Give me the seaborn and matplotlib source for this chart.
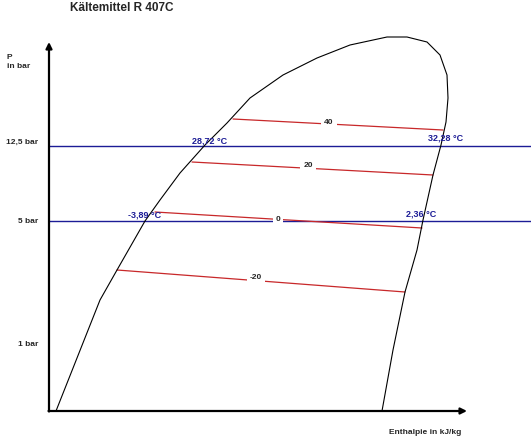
import pandas as pd
import matplotlib
matplotlib.use("Agg")
import matplotlib.pyplot as plt
import seaborn as sns

# Sattdampfkurve (schematisch, Enthalpie / Druck in Zeichnungseinheiten)
dome_h = [7, 51, 68, 96, 111, 131, 156, 178, 201, 234, 268, 301, 338, 358,
          378, 391, 398, 399, 397, 392, 384, 374, 368, 356, 344, 333]
dome_p = [0, 111, 141, 190, 211, 238, 266, 288, 313, 336, 353, 366, 374, 374,
          369, 356, 336, 313, 289, 266, 236, 191, 161, 119, 61, 0]

# Isothermen: Start/Ende und Position der Beschriftung
iso_names = ["40", "20", "0", "-20"]
iso_h0 = [184, 143, 106, 68]
iso_p0 = [292, 249, 199, 141]
iso_h1 = [394, 384, 373, 356]
iso_p1 = [281, 236, 183, 119]
iso_lab_h = [280, 259, 229, 207]
iso_lab_p = [289, 246, 192, 134]

# Druckniveaus
p_levels = [265, 190]
p_ticks = ["12,5 bar", "5 bar", "1 bar"]
p_tick_pos = [269, 190, 67]

# Siede-/Taupunkttemperaturen
t_labels = ["28,72 °C", "32,28 °C", "-3,89 °C", "2,36 °C"]
t_h = [161, 397, 96, 372]
t_p = [270, 273, 196, 197]

iso_df = pd.DataFrame({
    "h": iso_h0 + iso_h1,
    "p": iso_p0 + iso_p1,
    "T": iso_names + iso_names,
})
dome_df = pd.DataFrame({"h": dome_h, "p": dome_p, "k": "dome"})

sns.set_theme(style="white")
plt.rcParams["font.family"] = ["Liberation Sans", "DejaVu Sans"]

fig = plt.figure(figsize=(5.31, 4.40), dpi=100)
ax = fig.add_axes([0, 0, 1, 1])
ax.set_xlim(-49, 482)
ax.set_ylim(-29, 411)
ax.axis("off")

blue = "#1c1c96"
red = "#c8282a"

# Druckniveaus
ax.hlines(p_levels, 0, 482, color=blue, lw=1.0)

# Isothermen
sns.lineplot(data=iso_df, x="h", y="p", units="T", estimator=None, sort=False,
             color=red, lw=0.9, ax=ax, legend=False)
for name, h, p in zip(iso_names, iso_lab_h, iso_lab_p):
    ax.text(h, p, name, fontsize=6, fontweight="bold", ha="center", va="center",
            bbox=dict(boxstyle="square,pad=0.35", fc="white", ec="none"))

# Sattdampfkurve
sns.lineplot(data=dome_df, x="h", y="p", units="k", estimator=None, sort=False,
             color="black", lw=0.8, ax=ax, legend=False)

# Achsen
ax.annotate("", xy=(0, 369), xytext=(0, -0.5),
            arrowprops=dict(arrowstyle="-|>", lw=1.6, color="black", mutation_scale=9,
                            shrinkA=0, shrinkB=0))
ax.annotate("", xy=(418, 0), xytext=(-0.5, 0),
            arrowprops=dict(arrowstyle="-|>", lw=1.6, color="black", mutation_scale=9,
                            shrinkA=0, shrinkB=0))

for lab, p in zip(p_ticks, p_tick_pos):
    ax.text(-11, p, lab, fontsize=6, fontweight="bold", ha="right", va="center")
for lab, h, p in zip(t_labels, t_h, t_p):
    ax.text(h, p, lab, fontsize=6.5, fontweight="bold", color=blue, ha="center", va="center")

ax.text(-42, 354, "P", fontsize=6, fontweight="bold", ha="left", va="center")
ax.text(-42, 345, "in bar", fontsize=6, fontweight="bold", ha="left", va="center")
ax.text(340, -21, "Enthalpie in kJ/kg", fontsize=6, fontweight="bold", ha="left", va="center")
ax.text(21, 403, "Kältemittel R 407C", fontsize=8.5, fontweight="bold", ha="left", va="center")

fig.savefig("out.png", dpi=100)
